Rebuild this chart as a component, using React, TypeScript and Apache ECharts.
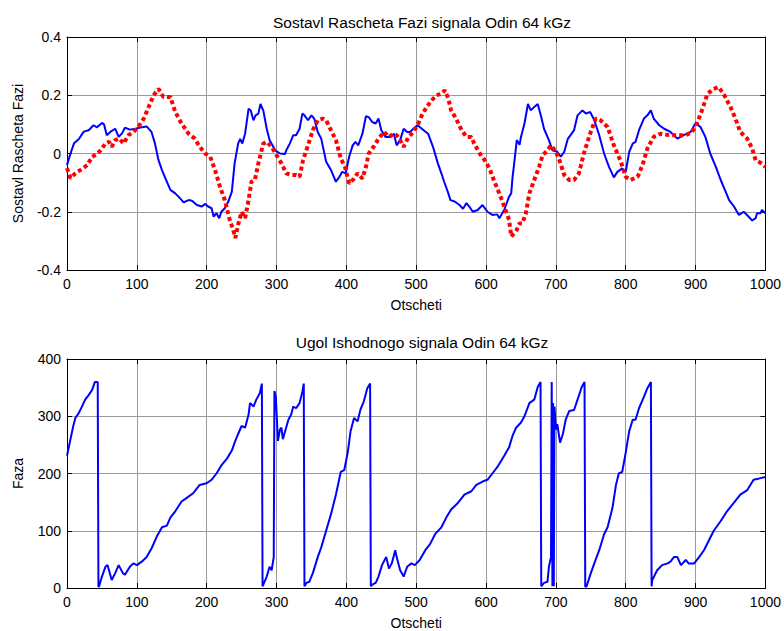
import React, { useEffect, useRef } from "react";
import * as echarts from "echarts";

const xTicks = [0, 100, 200, 300, 400, 500, 600, 700, 800, 900, 1000];
const topYTicks = [-0.4, -0.2, 0, 0.2, 0.4];
const bottomYTicks = [0, 100, 200, 300, 400];

const titleTop = "Sostavl Rascheta Fazi signala Odin 64 kGz";
const titleBottom = "Ugol Ishodnogo signala Odin 64 kGz";
const xName = "Otscheti";
const yNameTop = "Sostavl Rascheta Fazi";
const yNameBottom = "Faza";

// top plot, blue solid series [x, y]
const blueTop: [number, number][] = [
  [0, -0.04], [5, 0], [10, 0.035], [17, 0.05], [24, 0.075], [31, 0.08], [38, 0.097], [43, 0.09],
  [50, 0.105], [53, 0.1], [57, 0.063], [62, 0.074], [69, 0.085], [74, 0.057], [79, 0.07], [83, 0.089],
  [90, 0.082], [98, 0.085], [105, 0.089], [114, 0.093], [121, 0.074], [126, 0.034], [131, -0.023],
  [136, -0.057], [140, -0.08], [148, -0.125], [155, -0.137], [162, -0.154], [167, -0.168], [174, -0.16],
  [179, -0.162], [186, -0.177], [193, -0.182], [198, -0.173], [202, -0.182], [207, -0.188], [210, -0.217],
  [214, -0.205], [218, -0.222], [221, -0.2], [226, -0.188], [231, -0.165], [236, -0.131], [240, -0.034],
  [245, 0.034], [248, 0.05], [251, 0.034], [255, 0.068], [260, 0.154], [263, 0.148], [267, 0.114],
  [270, 0.131], [274, 0.137], [277, 0.17], [281, 0.148], [286, 0.085], [290, 0.046], [298, 0.011],
  [305, 0], [312, -0.002], [314, 0.011], [319, 0.034], [324, 0.063], [328, 0.063], [333, 0.085],
  [337, 0.137], [340, 0.131], [345, 0.114], [350, 0.131], [354, 0.12], [359, 0.074], [364, 0.051],
  [371, -0.028], [378, -0.057], [385, -0.097], [390, -0.08], [394, -0.063], [399, -0.068], [404, -0.011],
  [409, 0.028], [413, 0.04], [417, 0.028], [423, 0.068], [428, 0.128], [432, 0.125], [437, 0.108],
  [442, 0.103], [446, 0.12], [450, 0.08], [456, 0.057], [463, 0.057], [468, 0.068], [472, 0.028],
  [477, 0.046], [482, 0.085], [487, 0.074], [491, 0.074], [496, 0.085], [502, 0.097], [508, 0.085],
  [517, 0.068], [524, 0.023], [531, -0.034], [536, -0.068], [540, -0.097], [546, -0.137], [549, -0.16],
  [555, -0.165], [562, -0.177], [567, -0.19], [572, -0.17], [576, -0.182], [581, -0.2], [588, -0.194],
  [595, -0.177], [602, -0.2], [609, -0.211], [616, -0.209], [619, -0.222], [626, -0.194], [633, -0.148],
  [636, -0.137], [638, -0.08], [640, -0.04], [644, 0.046], [648, 0.03], [650, 0.057], [655, 0.103],
  [660, 0.17], [664, 0.148], [669, 0.16], [674, 0.17], [679, 0.125], [683, 0.085], [690, 0.046],
  [695, 0.011], [702, 0.006], [707, -0.011], [712, 0.006], [717, 0.05], [721, 0.063], [726, 0.08],
  [731, 0.131], [738, 0.148], [743, 0.137], [749, 0.143], [755, 0.114], [762, 0.063], [769, 0],
  [776, -0.046], [783, -0.082], [788, -0.063], [795, -0.051], [800, -0.063], [805, 0.006], [810, 0.034],
  [814, 0.04], [819, 0.08], [826, 0.12], [831, 0.131], [836, 0.148], [840, 0.12], [848, 0.097],
  [855, 0.085], [864, 0.074], [874, 0.051], [883, 0.063], [893, 0.074], [900, 0.105], [907, 0.091],
  [914, 0.057], [921, 0], [929, -0.046], [936, -0.091], [943, -0.131], [948, -0.16], [955, -0.182],
  [962, -0.211], [969, -0.2], [976, -0.217], [981, -0.23], [986, -0.222], [988, -0.205], [993, -0.205],
  [995, -0.194], [1000, -0.205],
];

// top plot, red dotted series [x, y]
const redTop: [number, number][] = [
  [0, -0.05], [5, -0.085], [12, -0.068], [19, -0.057], [29, -0.04], [36, -0.011], [43, -0.002],
  [48, 0.011], [55, 0.034], [60, 0.04], [64, 0.023], [69, 0.046], [75, 0.051], [81, 0.034], [88, 0.063],
  [95, 0.074], [102, 0.091], [110, 0.12], [117, 0.16], [124, 0.2], [131, 0.222], [138, 0.194],
  [148, 0.194], [155, 0.143], [164, 0.103], [174, 0.068], [183, 0.051], [190, 0.023], [198, 0],
  [205, -0.011], [212, -0.057], [219, -0.114], [226, -0.16], [233, -0.228], [238, -0.262], [241, -0.29],
  [245, -0.245], [250, -0.2], [255, -0.222], [260, -0.16], [264, -0.097], [269, -0.091], [274, -0.034],
  [281, 0.034], [286, 0.04], [293, 0.023], [300, -0.006], [307, -0.034], [314, -0.068], [321, -0.074],
  [328, -0.074], [333, -0.08], [338, -0.023], [345, 0.028], [352, 0.08], [359, 0.114], [366, 0.12],
  [371, 0.114], [378, 0.08], [385, 0.046], [392, -0.017], [398, -0.046], [404, -0.103], [411, -0.086],
  [416, -0.068], [423, -0.086], [428, -0.046], [432, 0], [439, 0.023], [446, 0.051], [454, 0.074],
  [461, 0.057], [468, 0.068], [472, 0.063], [477, 0.046], [482, 0.023], [489, 0.057], [496, 0.074],
  [503, 0.103], [508, 0.131], [515, 0.16], [522, 0.182], [529, 0.2], [536, 0.205], [541, 0.217],
  [546, 0.188], [550, 0.148], [557, 0.12], [565, 0.08], [572, 0.057], [579, 0.057], [583, 0.034],
  [591, 0], [598, -0.023], [605, -0.051], [612, -0.097], [619, -0.137], [626, -0.182], [633, -0.228],
  [636, -0.285], [640, -0.274], [644, -0.262], [648, -0.24], [652, -0.24], [657, -0.205], [662, -0.137],
  [669, -0.091], [676, -0.046], [681, -0.006], [688, 0.011], [693, 0.028], [700, 0.006], [705, -0.023],
  [712, -0.074], [719, -0.091], [726, -0.091], [733, -0.068], [740, 0], [749, 0.068], [757, 0.12],
  [764, 0.114], [774, 0.091], [783, 0.028], [793, -0.028], [800, -0.08], [807, -0.091], [817, -0.08],
  [824, -0.04], [831, 0.017], [840, 0.057], [850, 0.068], [862, 0.063], [874, 0.063], [886, 0.063],
  [895, 0.074], [902, 0.103], [910, 0.154], [917, 0.205], [926, 0.222], [933, 0.228], [940, 0.205],
  [950, 0.16], [957, 0.12], [964, 0.074], [974, 0.051], [981, 0.017], [986, -0.023], [993, -0.032],
  [1000, -0.046],
];

// bottom plot, blue phase series [x, y]
const phase: [number, number][] = [
  [0, 231], [5, 260], [9, 283], [12, 297], [17, 306], [21, 316], [26, 329], [31, 337], [36, 346],
  [40, 360], [44, 360], [45, 2], [46, 3], [50, 20], [55, 37], [58, 40], [64, 14], [69, 26], [74, 40],
  [80, 26], [83, 23], [90, 37], [95, 43], [100, 40], [107, 46], [114, 54], [121, 69], [129, 91],
  [136, 106], [143, 109], [148, 123], [155, 134], [164, 151], [171, 157], [181, 166], [190, 180],
  [200, 183], [207, 189], [214, 200], [221, 214], [229, 226], [236, 240], [240, 254], [245, 269],
  [250, 283], [255, 280], [260, 303], [262, 323], [267, 317], [271, 329], [276, 340], [279, 357],
  [280, 3], [281, 3], [286, 20], [290, 37], [293, 31], [296, 54], [297, 344], [299, 334], [302, 257],
  [305, 277], [307, 280], [309, 260], [313, 277], [317, 294], [321, 303], [324, 317], [328, 314],
  [333, 323], [337, 343], [339, 357], [340, 3], [343, 9], [347, 11], [352, 26], [359, 54], [364, 71],
  [371, 100], [378, 129], [385, 163], [392, 203], [397, 206], [402, 237], [406, 274], [411, 297],
  [416, 291], [420, 311], [425, 326], [430, 349], [434, 357], [435, 3], [437, 6], [442, 9], [446, 20],
  [451, 40], [457, 54], [461, 34], [465, 43], [470, 66], [472, 54], [477, 31], [482, 20], [487, 37],
  [493, 43], [498, 40], [505, 49], [513, 66], [520, 77], [527, 94], [536, 106], [543, 123], [550, 137],
  [560, 149], [569, 163], [579, 169], [586, 180], [595, 186], [602, 189], [609, 200], [616, 211],
  [626, 231], [633, 246], [638, 266], [643, 280], [650, 289], [655, 300], [662, 323], [669, 329],
  [674, 351], [678, 360], [679, 3], [683, 9], [688, 11], [690, 37], [693, 54], [694, 360], [695, 3],
  [696, 323], [697, 3], [698, 317], [700, 277], [702, 286], [706, 254], [710, 269], [714, 294],
  [719, 309], [726, 311], [731, 329], [737, 351], [741, 360], [742, 2], [744, 3], [750, 26], [755, 43],
  [762, 66], [769, 94], [774, 106], [781, 140], [786, 180], [790, 200], [795, 203], [800, 237],
  [805, 274], [810, 294], [814, 294], [819, 314], [826, 334], [831, 349], [836, 360], [837, 3],
  [838, 14], [845, 31], [852, 40], [860, 43], [864, 46], [869, 54], [874, 54], [879, 40], [886, 49],
  [890, 43], [898, 43], [905, 54], [912, 66], [919, 83], [926, 100], [936, 117], [945, 134], [955, 149],
  [964, 163], [974, 171], [983, 189], [990, 191], [1000, 194],
];

const FONT = "Liberation Sans, Arial, Helvetica, sans-serif";

export default function App() {
  const ref = useRef<HTMLDivElement>(null);
  useEffect(() => {
    if (!ref.current) return;
    const chart = echarts.init(ref.current, undefined, { renderer: "svg" });
    const grids = [
      { left: 67, right: 16, top: 37, height: 233 },
      { left: 67, right: 16, top: 359, height: 233 },
    ];
    const xMin = xTicks[0];
    const xMax = xTicks[xTicks.length - 1];
    const xInt = xTicks[1] - xTicks[0];
    const labelStyle = { color: "#000", fontSize: 14, fontFamily: FONT };
    const axisLine = { show: true, onZero: false, lineStyle: { color: "#000", width: 1 } };
    const tick = { show: true, inside: true, length: 5, lineStyle: { color: "#000" } };
    const split = { show: true, lineStyle: { color: "#9a9a9a", width: 1 } };

    const mkX = (g: number, main: boolean) => ({
      type: "value",
      gridIndex: g,
      position: main ? "bottom" : "top",
      min: xMin,
      max: xMax,
      interval: xInt,
      name: main ? xName : "",
      nameLocation: "middle",
      nameGap: 28,
      nameTextStyle: { color: "#000", fontSize: 14, fontFamily: FONT },
      axisLine,
      axisTick: tick,
      axisLabel: main ? { ...labelStyle, margin: 7, formatter: (v: number) => String(v) } : { show: false },
      splitLine: main ? split : { show: false },
    });
    const mkY = (g: number, main: boolean, ticks: number[], name: string, gap: number) => ({
      type: "value",
      gridIndex: g,
      position: main ? "left" : "right",
      min: ticks[0],
      max: ticks[ticks.length - 1],
      interval: ticks[1] - ticks[0],
      name: main ? name : "",
      nameLocation: "middle",
      nameGap: gap,
      nameTextStyle: { color: "#000", fontSize: 14, fontFamily: FONT },
      axisLine,
      axisTick: tick,
      axisLabel: main
        ? { ...labelStyle, margin: 6, formatter: (v: number) => String(Math.round(v * 10) / 10) }
        : { show: false },
      splitLine: main ? split : { show: false },
    });

    chart.setOption({
      animation: false,
      backgroundColor: "#fff",
      title: [
        {
          text: titleTop,
          left: 417,
          top: 9,
          textAlign: "center",
          textStyle: { color: "#000", fontSize: 15.5, fontWeight: "normal", fontFamily: FONT },
        },
        {
          text: titleBottom,
          left: 417,
          top: 329,
          textAlign: "center",
          textStyle: { color: "#000", fontSize: 15.5, fontWeight: "normal", fontFamily: FONT },
        },
      ],
      grid: grids,
      xAxis: [mkX(0, true), mkX(1, true), mkX(0, false), mkX(1, false)],
      yAxis: [
        mkY(0, true, topYTicks, yNameTop, 42),
        mkY(1, true, bottomYTicks, yNameBottom, 42),
        mkY(0, false, topYTicks, "", 0),
        mkY(1, false, bottomYTicks, "", 0),
      ],
      series: [
        {
          type: "line",
          xAxisIndex: 0,
          yAxisIndex: 0,
          data: blueTop,
          showSymbol: false,
          lineStyle: { color: "#0000ff", width: 2 },
          z: 3,
        },
        {
          type: "line",
          xAxisIndex: 0,
          yAxisIndex: 0,
          data: redTop,
          showSymbol: false,
          lineStyle: { color: "#ff0000", width: 4, type: [4, 3] },
          z: 4,
        },
        {
          type: "line",
          xAxisIndex: 1,
          yAxisIndex: 1,
          data: phase,
          showSymbol: false,
          lineStyle: { color: "#0000ff", width: 2 },
          z: 3,
        },
      ],
    });
    return () => chart.dispose();
  }, []);
  return <div ref={ref} style={{ width: 784, height: 631, position: "absolute", left: 0, top: 0 }} />;
}
